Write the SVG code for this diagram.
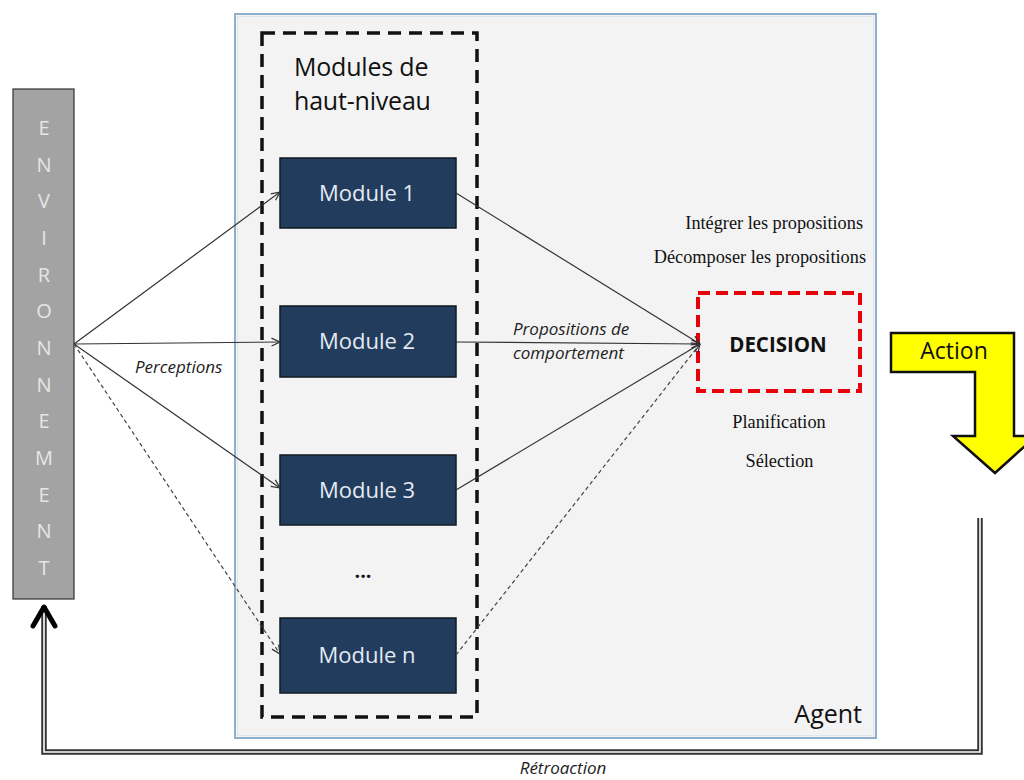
<svg xmlns="http://www.w3.org/2000/svg" width="1024" height="780" viewBox="0 0 1024 780">
<defs>
<style>
.cal{font-family:"Open Sans",Lato,"Liberation Sans",sans-serif}
.ser{font-family:"Liberation Serif","Times New Roman",serif;font-size:18.3px;fill:#111}
.mod rect{fill:#223c5e;stroke:#101820;stroke-width:1.5}
.mod text{font-family:"Open Sans",Lato,"Liberation Sans",sans-serif;font-size:22px;fill:#e4eaf2;text-anchor:middle}
.env text{font-family:"Open Sans",Lato,"Liberation Sans",sans-serif;font-size:20px;fill:#e6e6e6;text-anchor:middle}
.c{fill:none;stroke:#333;stroke-width:1.2}
.d{fill:none;stroke:#444;stroke-width:1.2;stroke-dasharray:4 3}
.lab{font-family:"Open Sans",Lato,"Liberation Sans",sans-serif;font-style:italic;font-size:17px;fill:#222}
</style>
<marker id="ah" viewBox="0 0 10 10" refX="9.5" refY="5" markerWidth="10" markerHeight="10" markerUnits="userSpaceOnUse" orient="auto">
<path d="M1,1 L9.5,5 L1,9" fill="none" stroke="#333" stroke-width="1.2"/>
</marker>
</defs>
<rect width="1024" height="780" fill="#ffffff"/>

<g id="agent">
<rect x="235" y="14" width="641" height="724" fill="#f3f3f3" stroke="#8fb0cc" stroke-width="2"/>
<rect x="237.5" y="16.5" width="636" height="719" fill="none" stroke="#dce7f0" stroke-width="1"/>
<text x="862" y="723" class="cal" font-size="25" text-anchor="end" fill="#111">Agent</text>
</g>

<g id="modules-group">
<rect x="262" y="33" width="215" height="684" fill="none" stroke="#111" stroke-width="3.5" stroke-dasharray="13 8"/>
<text x="294" y="76" class="cal" font-size="25" fill="#111" letter-spacing="-0.2">Modules de</text>
<text x="294" y="110" class="cal" font-size="25" fill="#111" letter-spacing="-0.2">haut-niveau</text>
<text x="363" y="578" class="cal" font-size="20" font-weight="bold" text-anchor="middle" fill="#111">...</text>
</g>

<g id="environment" class="env">
<rect x="13" y="89" width="61" height="510" fill="#a3a3a3" stroke="#333" stroke-width="1.2"/>
<text x="44" y="135">E</text>
<text x="44" y="172">N</text>
<text x="44" y="208">V</text>
<text x="44" y="245">I</text>
<text x="44" y="282">R</text>
<text x="44" y="318">O</text>
<text x="44" y="355">N</text>
<text x="44" y="392">N</text>
<text x="44" y="428">E</text>
<text x="44" y="465">M</text>
<text x="44" y="502">E</text>
<text x="44" y="538">N</text>
<text x="44" y="575">T</text>
</g>

<g id="module1" class="mod"><rect x="280" y="158" width="176" height="70"/><text x="367" y="201">Module 1</text></g>
<g id="module2" class="mod"><rect x="280" y="306" width="176" height="71"/><text x="367" y="349">Module 2</text></g>
<g id="module3" class="mod"><rect x="280" y="455" width="176" height="70"/><text x="367" y="498">Module 3</text></g>
<g id="modulen" class="mod"><rect x="280" y="618" width="176" height="75"/><text x="367" y="663">Module n</text></g>

<g id="decision">
<rect x="698" y="293" width="162" height="98" fill="none" stroke="#e8000b" stroke-width="4" stroke-dasharray="12 6"/>
<text x="778" y="352" class="cal" font-size="20.5" font-weight="bold" text-anchor="middle" fill="#111">DECISION</text>
<text x="863" y="229" class="ser" text-anchor="end">Intégrer les propositions</text>
<text x="866" y="263" class="ser" text-anchor="end">Décomposer les propositions</text>
<text x="779" y="428" class="ser" text-anchor="middle">Planification</text>
<text x="779.5" y="467" class="ser" text-anchor="middle">Sélection</text>
</g>

<g id="action">
<path d="M891,333 L1014,333 L1014,436 L1036,436 L995,473 L953,436 L975,436 L975,372 L891,372 Z" fill="#ffff00" stroke="#111" stroke-width="2.5" stroke-linejoin="miter"/>
<text x="954" y="359" class="cal" font-size="23" text-anchor="middle" fill="#111">Action</text>
</g>

<g id="connectors">
<path class="c" d="M74,344 L280,192" marker-end="url(#ah)"/>
<path class="c" d="M74,344 L280,342" marker-end="url(#ah)"/>
<path class="c" d="M74,344 L280,488" marker-end="url(#ah)"/>
<path class="d" d="M74,344 L280,654" marker-end="url(#ah)"/>
<path class="c" d="M456,193 L700,344" marker-end="url(#ah)"/>
<path class="c" d="M456,342 L700,344" marker-end="url(#ah)"/>
<path class="c" d="M456,490 L700,344" marker-end="url(#ah)"/>
<path class="d" d="M456,655 L700,344" marker-end="url(#ah)"/>
<text x="135" y="373" class="lab">Perceptions</text>
<text x="513" y="335" class="lab">Propositions de</text>
<text x="513" y="359" class="lab">comportement</text>
<g id="retroaction">
<path d="M980,518 L980,752 L44,752 L44,606" fill="none" stroke="#333" stroke-width="5.5"/>
<path d="M980,518 L980,752 L44,752 L44,606" fill="none" stroke="#ffffff" stroke-width="1.6"/>
<path d="M33,626 L44,607 L55,626" fill="none" stroke="#000" stroke-width="5" stroke-linecap="round" stroke-linejoin="round"/>
<text x="563" y="774" class="lab" font-size="16.5" text-anchor="middle">Rétroaction</text>
</g>
</g>
</svg>
